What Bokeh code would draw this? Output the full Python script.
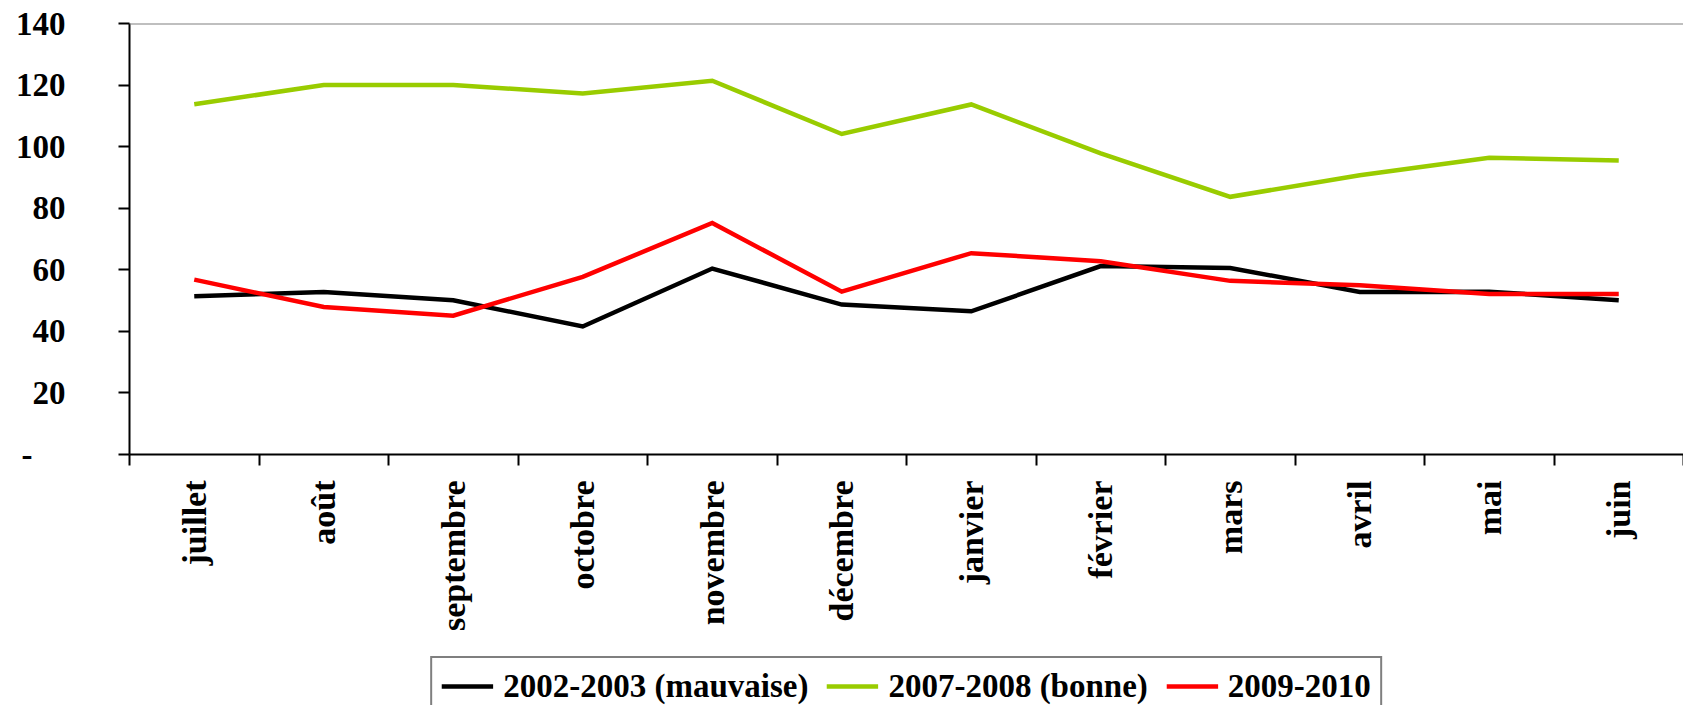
import math
from bokeh.plotting import figure
from bokeh.layouts import column
from bokeh.models import (Range1d, FixedTicker, Span, Legend, LegendItem)
from bokeh.embed import file_html
from bokeh.resources import INLINE

months = ["juillet", "août", "septembre", "octobre", "novembre", "décembre",
          "janvier", "février", "mars", "avril", "mai", "juin"]
s_2002_2003 = [51.4, 52.8, 50.1, 41.6, 60.4, 48.7, 46.5, 61.2, 60.6, 52.8, 52.9, 50.1]
s_2007_2008 = [113.8, 120.0, 120.0, 117.3, 121.4, 104.1, 113.7, 97.8, 83.7, 90.7, 96.4, 95.5]
s_2009_2010 = [56.8, 47.9, 45.1, 57.7, 75.2, 52.9, 65.4, 62.8, 56.4, 55.0, 52.1, 52.1]
labels = ["2002-2003 (mauvaise)", "2007-2008 (bonne)", "2009-2010"]
colors = ["black", "#99CC00", "#FF0000"]
series = [s_2002_2003, s_2007_2008, s_2009_2010]
y_ticks = [0, 20, 40, 60, 80, 100, 120, 140]

FONT = "Liberation Serif"
W = 1683
H_MAIN, H_LEG = 650, 55

xs = [i + 0.5 for i in range(len(months))]

p = figure(width=W, height=H_MAIN, output_backend="svg", toolbar_location=None,
           x_range=Range1d(0, len(months)), y_range=Range1d(0, 140),
           min_border_left=129, min_border_right=0, min_border_top=23,
           min_border_bottom=196)
p.outline_line_color = None
p.background_fill_color = "white"
p.border_fill_color = "white"
p.xgrid.visible = False
p.ygrid.visible = False

# top gray border of plot area
p.add_layout(Span(location=140, dimension="width", line_color="#808080", line_width=2))

for s, c in zip(series, colors):
    p.line(xs, s, line_color=c, line_width=4.5, line_join="miter")

# x axis
xa = p.xaxis[0]
xa.ticker = FixedTicker(ticks=xs, minor_ticks=list(range(len(months) + 1)))
xa.major_label_overrides = {x: m for x, m in zip(xs, months)}
xa.major_label_orientation = math.pi / 2
xa.major_tick_out = 0
xa.major_tick_in = 0
xa.minor_tick_out = 11
xa.minor_tick_in = 0
xa.minor_tick_line_width = 2
xa.minor_tick_line_color = "black"
xa.axis_line_width = 2
xa.axis_line_color = "black"
xa.major_label_standoff = 15
xa.major_label_text_font = FONT
xa.major_label_text_font_style = "bold"
xa.major_label_text_font_size = "34px"
xa.major_label_text_color = "black"

# y axis
ya = p.yaxis[0]
ya.ticker = FixedTicker(ticks=y_ticks)
ya.major_label_overrides = {0: "-\u00a0\u00a0\u00a0\u00a0"}
ya.major_tick_out = 11
ya.major_tick_in = 0
ya.minor_tick_out = 0
ya.minor_tick_in = 0
ya.major_tick_line_width = 2
ya.major_tick_line_color = "black"
ya.axis_line_width = 2
ya.axis_line_color = "black"
ya.major_label_standoff = 53
ya.major_label_text_font = FONT
ya.major_label_text_font_style = "bold"
ya.major_label_text_font_size = "33px"
ya.major_label_text_color = "black"

# legend strip below the chart (same series, lines kept off-view)
lf = figure(width=W, height=H_LEG, output_backend="svg", toolbar_location=None,
            x_range=Range1d(0, len(months)), y_range=Range1d(1000, 1001),
            x_axis_location=None, y_axis_location=None,
            min_border_left=129, min_border_right=0, min_border_top=0,
            min_border_bottom=0)
lf.outline_line_color = None
lf.xgrid.visible = False
lf.ygrid.visible = False
lf.background_fill_color = "white"
lf.border_fill_color = "white"

items = []
for s, c, lab in zip(series, colors, labels):
    r = lf.line(xs, s, line_color=c, line_width=4.5)
    items.append(LegendItem(label=lab, renderers=[r]))

legend = Legend(items=items, orientation="horizontal", location="top_center",
                glyph_width=52, glyph_height=38, label_height=38,
                label_standoff=10, spacing=18, padding=9, margin=6,
                border_line_color="black", border_line_width=2,
                background_fill_color="white", background_fill_alpha=1.0,
                label_text_font=FONT, label_text_font_style="bold",
                label_text_font_size="33px", label_text_color="black")
lf.add_layout(legend, "center")

layout = column(p, lf, spacing=0)
open("out.html", "w").write(file_html(layout, INLINE))
